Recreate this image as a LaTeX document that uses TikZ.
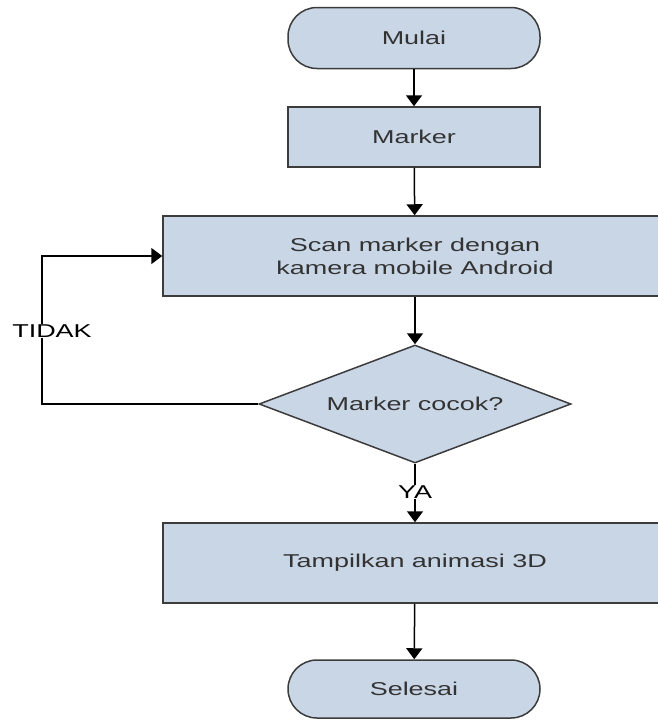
\documentclass[tikz,border=0pt]{standalone}
\usepackage{fontspec}
\setmainfont[FakeStretch=1.45]{Liberation Sans}
\usetikzlibrary{shapes.geometric,arrows.meta}
\definecolor{boxfill}{HTML}{C9D6E6}
\definecolor{boxline}{HTML}{3C3C3C}
\tikzset{
  base/.style={draw=boxline, fill=boxfill, line width=1.5pt, text=black!80, inner sep=0pt, font=\fontsize{18.6}{23}\selectfont},
  terminal/.style={base, rectangle, rounded corners=29pt, minimum width=252pt},
  process/.style={base, rectangle, align=center},
  decision/.style={base, diamond, aspect=2.64, minimum width=312pt, minimum height=118pt},
  arr/.style={line width=1.5pt, -{Triangle[length=11pt,width=16pt]}},
  lbl/.style={fill=white, inner sep=1pt, font=\fontsize{18.6}{23}\selectfont}
}
\begin{document}
\begin{tikzpicture}[x=1pt,y=-1pt]
\useasboundingbox (0,0) rectangle (657,720);
\node[terminal, minimum height=61pt] (mulai) at (414,38) {Mulai};
\node[process, minimum width=252pt, minimum height=60pt] (marker) at (414,137) {Marker};
\node[process, minimum width=504pt, minimum height=80pt] (scan) at (415,256) {Scan marker dengan\\kamera mobile Android};
\node[decision] (cocok) at (415,404) {Marker cocok?};
\node[process, minimum width=504pt, minimum height=80pt] (tampil) at (415,563) {Tampilkan animasi 3D};
\node[terminal, minimum height=58pt] (selesai) at (414,689) {Selesai};
\coordinate (kiri) at (42,404);
\draw[arr] (mulai) -- (marker);
\draw[arr] (marker) -- (scan);
\draw[arr] (scan) -- (cocok);
\draw[arr] (cocok) -- (tampil);
\draw[arr] (tampil) -- (selesai);
\draw[arr] (cocok.west) -- (kiri) |- (scan.west);
\node[lbl] (tidak) at (52,331) {TIDAK};
\node[lbl] (ya) at (415,492) {YA};
\end{tikzpicture}
\end{document}
